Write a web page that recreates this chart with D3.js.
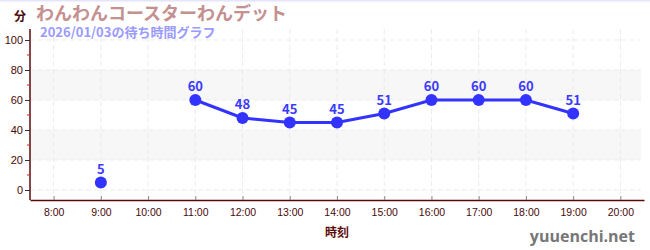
<!DOCTYPE html>
<html><head><meta charset="utf-8">
<script src="https://cdn.jsdelivr.net/npm/d3@7"></script>
<style>
html,body{margin:0;padding:0;background:#fff;}
svg{display:block;font-family:"Noto Sans CJK JP","Noto Sans",sans-serif;}
</style></head>
<body>
<script>
const times = ["9:00","11:00","12:00","13:00","14:00","15:00","16:00","17:00","18:00","19:00"];
const waits = [5,60,48,45,45,51,60,60,60,51];
const xTickLabels = ["8:00","9:00","10:00","11:00","12:00","13:00","14:00","15:00","16:00","17:00","18:00","19:00","20:00"];
const yTicks = [0,20,40,60,80,100];
const yMinorTicks = [10,30,50,70,90];
const bands = [[20,40],[60,80]];
const title = "わんわんコースターわんデット";
const subtitle = "2026/01/03の待ち時間グラフ";

const W = 650, H = 250;
const svg = d3.select("body").append("svg").attr("width", W).attr("height", H);

const toH = s => { const [h,m] = s.split(":").map(Number); return h + m/60; };

const x = d3.scaleLinear().domain([7.5, 20.5]).range([30, 644]);
const y = d3.scaleLinear().domain([0, 100]).range([190, 40]);
const plotTop = 29, plotBottom = 200;

// top border
svg.append("rect").attr("x",0).attr("y",0).attr("width",W).attr("height",1.5).attr("fill","#e4e4fa");

// bands
svg.selectAll("rect.band").data(bands).enter().append("rect")
  .attr("x", x(7.5)).attr("width", x(20.5) - x(7.5) - 3)
  .attr("y", d => y(d[1])).attr("height", d => y(d[0]) - y(d[1]))
  .attr("fill", "#f7f7f7");

// horizontal grid
svg.selectAll("line.hg").data(yTicks).enter().append("line")
  .attr("x1", x(7.5)).attr("x2", x(20.5) - 3)
  .attr("y1", d => y(d)).attr("y2", d => y(d))
  .attr("stroke", "#ebebeb").attr("stroke-dasharray", "5,3");

// vertical grid
svg.selectAll("line.vg").data(xTickLabels).enter().append("line")
  .attr("x1", d => x(toH(d))).attr("x2", d => x(toH(d)))
  .attr("y1", plotTop).attr("y2", plotBottom)
  .attr("stroke", "#ebebeb").attr("stroke-dasharray", "5,3");

// x axis
const xAxis = d3.axisBottom(x).tickValues(xTickLabels.map(toH))
  .tickFormat((d,i) => xTickLabels[i]).tickSize(4).tickSizeOuter(0);
const gx = svg.append("g").attr("transform", `translate(0,${plotBottom})`).call(xAxis);
gx.select(".domain").attr("stroke", "#5a0a0a").attr("stroke-width", 1.5);
gx.selectAll(".tick line").attr("stroke", "#888").attr("y1", -4).attr("y2", 0);
gx.selectAll(".tick text").attr("fill", "#4a0808").attr("font-size", 10.5)
  .attr("font-weight", "500").attr("dy", "0.9em");

// y axis
const yAxis = d3.axisLeft(y).tickValues(yTicks).tickSize(5).tickSizeOuter(0);
const gy = svg.append("g").attr("transform", `translate(${x(7.5)},0)`).call(yAxis);
gy.select(".domain").attr("stroke", "#5a0a0a").attr("stroke-width", 1.5)
  .attr("d", `M0,${plotTop}V${plotBottom}`);
gy.selectAll(".tick line").attr("stroke", "#333").attr("x1", -5).attr("x2", 0);
gy.selectAll(".tick text").attr("fill", "#4a0808").attr("font-size", 11)
  .attr("font-weight", "500").attr("x", -7);
gy.selectAll("line.minor").data(yMinorTicks).enter().append("line")
  .attr("x1", -3).attr("x2", 0).attr("y1", d => y(d)).attr("y2", d => y(d))
  .attr("stroke", "#e02020");

// line (gap where consecutive hours missing)
const pts = times.map((t,i) => ({h: toH(t), v: waits[i]}));
const line = d3.line().x(d => x(d.h)).y(d => y(d.v));
const segs = [];
let cur = [];
pts.forEach((p,i) => {
  if (i > 0 && p.h - pts[i-1].h > 1.01) { segs.push(cur); cur = []; }
  cur.push(p);
});
segs.push(cur);
svg.selectAll("path.ln").data(segs.filter(s => s.length > 1)).enter().append("path")
  .attr("d", line).attr("fill", "none").attr("stroke", "#3333ff").attr("stroke-width", 3);

svg.selectAll("circle.pt").data(pts).enter().append("circle")
  .attr("cx", d => x(d.h)).attr("cy", d => y(d.v)).attr("r", 6).attr("fill", "#3333ff");

svg.selectAll("text.lbl").data(pts).enter().append("text")
  .attr("x", d => x(d.h)).attr("y", d => y(d.v) - 9)
  .attr("text-anchor", "middle").attr("fill", "#3a3aff")
  .attr("font-size", 13).attr("font-weight", "bold").text(d => d.v);

// titles
svg.append("text").attr("x", 36).attr("y", 20).attr("fill", "#c49090")
  .attr("font-size", 18).attr("font-weight", "bold").text(title);
svg.append("text").attr("x", 40).attr("y", 37).attr("fill", "#9a9aff")
  .attr("font-size", 13).attr("font-weight", "bold").text(subtitle);
svg.append("text").attr("x", 14).attr("y", 21).attr("fill", "#4a0a0a")
  .attr("font-size", 12).attr("font-weight", "bold").text("分");
svg.append("text").attr("x", x(14)).attr("y", 237).attr("text-anchor", "middle")
  .attr("fill", "#5a0a0a").attr("font-size", 12).attr("font-weight", "bold").text("時刻");
svg.append("text").attr("x", 635).attr("y", 242).attr("text-anchor", "end")
  .attr("fill", "#777").attr("font-size", 16).attr("font-weight", "bold")
  .attr("font-family", "'Open Sans','Noto Sans',sans-serif").text("yuuenchi.net");
</script>
</body></html>
